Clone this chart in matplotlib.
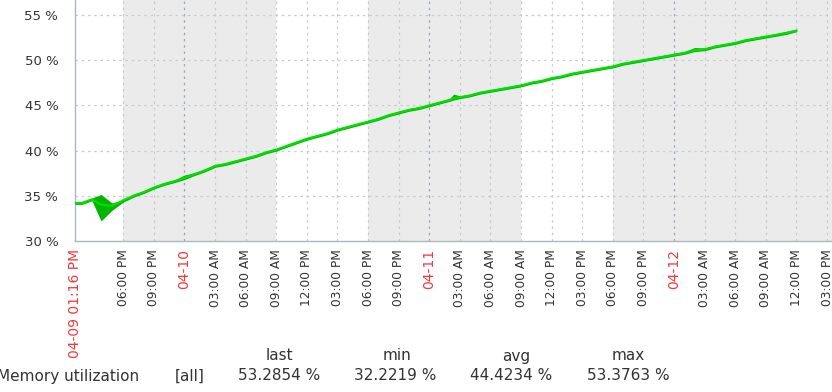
import numpy as np
import matplotlib
matplotlib.use("Agg")
from matplotlib import pyplot as plt

# hours since 04-09 00:00
hours = [13.27, 13.95, 14.93, 15.82, 16.9, 17.5, 18, 19, 20, 21, 22, 23, 24,
         25, 26, 27, 28, 29, 30, 31, 32, 33, 34, 35, 36, 37, 38, 39, 40, 41, 42,
         43, 44, 45, 46, 47, 48, 49, 50, 50.4, 51, 52, 53, 54, 55, 56, 57, 58, 59,
         60, 61, 62, 63, 64, 65, 66, 67, 68, 69, 70, 71, 72, 73, 74, 75, 76, 77,
         78, 79, 80, 81, 82, 83, 84]
avg = [34.2, 34.2, 34.6, 34.0, 33.9, 34.2, 34.5, 35.0, 35.4, 35.9, 36.3, 36.6, 37.0,
       37.4, 37.8, 38.3, 38.5, 38.8, 39.1, 39.4, 39.8, 40.1, 40.5, 40.9, 41.3, 41.6, 41.9,
       42.3, 42.6, 42.9, 43.2, 43.5, 43.9, 44.2, 44.5, 44.7, 45.0, 45.3, 45.6, 45.8, 45.9,
       46.1, 46.4, 46.6, 46.8, 47.0, 47.2, 47.5, 47.7, 48.0, 48.2, 48.5, 48.7, 48.9, 49.1,
       49.3, 49.6, 49.8, 50.0, 50.2, 50.4, 50.6, 50.8, 51.1, 51.2, 51.5, 51.7, 51.9, 52.2,
       52.4, 52.6, 52.8, 53.0, 53.28]
vmin = [34.05, 34.05, 34.45, 32.22, 33.4, 33.9, 34.3, 34.85, 35.25, 35.75, 36.15, 36.45, 36.8,
        37.25, 37.65, 38.15, 38.35, 38.65, 38.95, 39.25, 39.65, 39.95, 40.35, 40.75, 41.15, 41.45, 41.75,
        42.15, 42.45, 42.75, 43.05, 43.35, 43.75, 44.05, 44.35, 44.55, 44.85, 45.15, 45.45, 45.6, 45.75,
        45.95, 46.25, 46.45, 46.65, 46.85, 47.05, 47.35, 47.55, 47.85, 48.05, 48.35, 48.55, 48.75, 48.95,
        49.15, 49.45, 49.65, 49.85, 50.05, 50.25, 50.45, 50.65, 50.95, 51.05, 51.35, 51.55, 51.75, 52.05,
        52.25, 52.45, 52.65, 52.85, 53.15]
vmax = [34.35, 34.35, 34.75, 35.15, 34.2, 34.4, 34.6, 35.15, 35.55, 36.05, 36.45, 36.75, 37.3,
        37.55, 37.95, 38.45, 38.65, 38.95, 39.25, 39.55, 39.95, 40.25, 40.65, 41.05, 41.45, 41.75, 42.05,
        42.45, 42.75, 43.05, 43.35, 43.65, 44.05, 44.35, 44.65, 44.85, 45.15, 45.45, 45.75, 46.25, 46.05,
        46.25, 46.55, 46.75, 46.95, 47.15, 47.35, 47.65, 47.85, 48.15, 48.35, 48.65, 48.85, 49.05, 49.25,
        49.45, 49.75, 49.95, 50.15, 50.35, 50.55, 50.75, 50.95, 51.4, 51.35, 51.65, 51.85, 52.05, 52.35,
        52.55, 52.75, 52.95, 53.2, 53.38]

start_label = "04-09 01:16 PM"
day_labels = {24: "04-10", 48: "04-11", 72: "04-12"}
off_hours = [(18, 33), (42, 57), (66, 90)]

legend_name = "Memory utilization"
legend_cols = ["last", "min", "avg", "max"]
legend_vals = ["53.2854 %", "32.2219 %", "44.4234 %", "53.3763 %"]

W, H = 832, 392
fig = plt.figure(figsize=(W / 100, H / 100), dpi=100)
ax = fig.add_axes([75 / W, (H - 241) / H, 1 - 75 / W, 241 / H])

x0 = 13.267
x1 = x0 + (W - 75) / 10.2
ax.set_xlim(x0, x1)
ax.set_ylim(30, 30 + 241 / 9.04)

for a, b in off_hours:
    ax.axvspan(a, b, color="#ebebeb", lw=0, zorder=0)

ticks = [x0] + list(range(18, 88, 3))
labels = []
for t in ticks:
    if t == x0:
        labels.append(start_label)
    elif t in day_labels:
        labels.append(day_labels[t])
    else:
        hh = t % 24
        h12 = hh % 12
        if h12 == 0:
            h12 = 12
        labels.append("%02d:00 %s" % (h12, "AM" if hh < 12 else "PM"))

for t in ticks[1:]:
    c = "#9aa8b8" if t in day_labels else "#c8ccd2"
    ax.axvline(t, color=c, lw=0.9, ls=(0, (2, 3)), zorder=1)
for v in [35, 40, 45, 50, 55]:
    ax.axhline(v, color="#c8ccd2", lw=0.9, ls=(0, (2, 3)), zorder=1)

ax.fill_between(hours, vmin, vmax, color="#00b400", lw=0, zorder=3)
ax.plot(hours, avg, color="#00e000", lw=1.6, zorder=4)

ax.set_xticks(ticks)
ax.set_xticklabels(labels, rotation=90, fontsize=8.8, va="top", ha="center")
for t, lab in zip(ticks, ax.get_xticklabels()):
    if t == x0 or t in day_labels:
        lab.set_color("#f03a3a")
        lab.set_fontsize(10)
    else:
        lab.set_color("#333333")
ax.tick_params(axis="x", length=0, pad=6)

ax.set_yticks([30, 35, 40, 45, 50, 55])
ax.set_yticklabels(["%d %%" % v for v in [30, 35, 40, 45, 50, 55]], fontsize=9.5, color="#333333")
ax.tick_params(axis="y", length=0, pad=12)

for s in ["top", "right"]:
    ax.spines[s].set_visible(False)
for s in ["left", "bottom"]:
    ax.spines[s].set_color("#aab8c6")
    ax.spines[s].set_linewidth(1.0)

col_x = [279, 397, 516, 628]
val_x = [279, 395, 511, 628]
for cx, name in zip(col_x, legend_cols):
    fig.text(cx / W, 1 - 356 / H, name, ha="center", va="center", fontsize=11, color="#333333")
fig.text(-3 / W, 1 - 376 / H, legend_name, ha="left", va="center", fontsize=11, color="#333333")
fig.text(190 / W, 1 - 376 / H, "[all]", ha="center", va="center", fontsize=11, color="#333333")
for vx, val in zip(val_x, legend_vals):
    fig.text(vx / W, 1 - 376 / H, val, ha="center", va="center", fontsize=11, color="#333333")

fig.savefig("out.png", dpi=100)
